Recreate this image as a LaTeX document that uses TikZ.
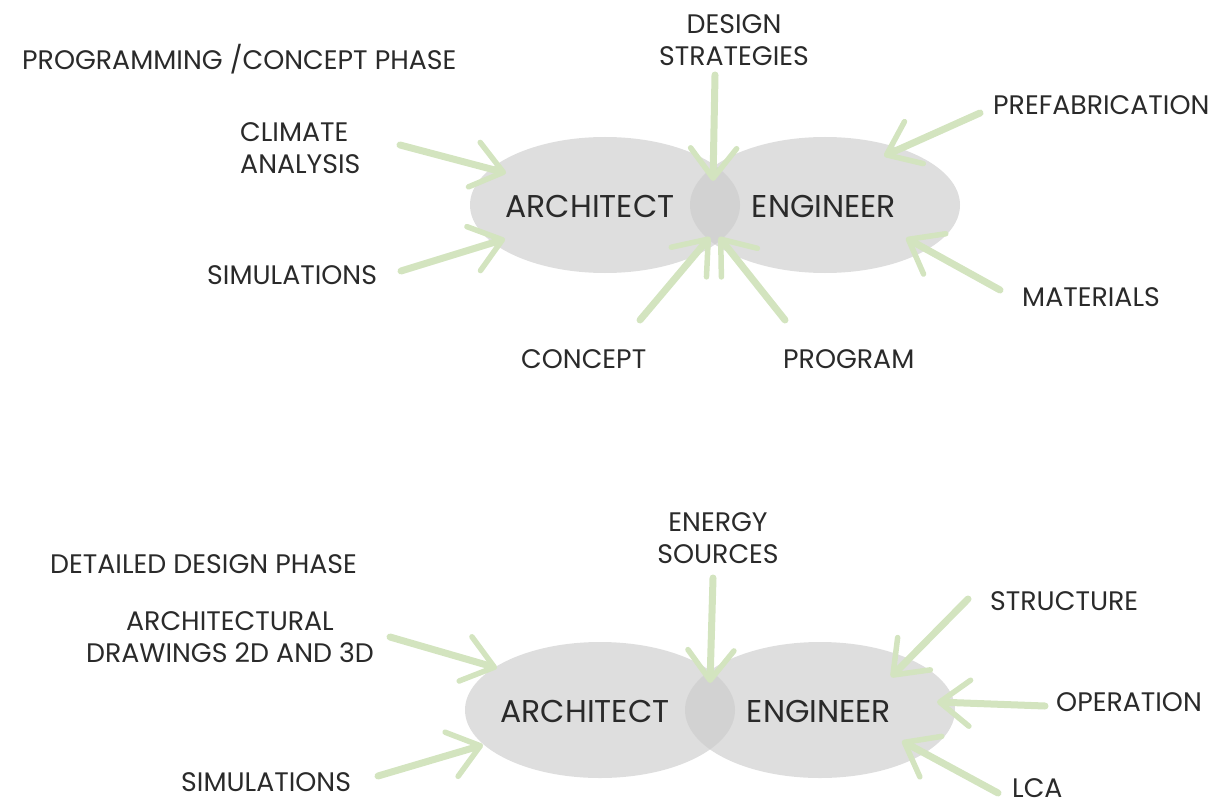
\documentclass[tikz,border=0pt]{standalone}
\usepackage{fontspec}
\setmainfont{Poppins}
\usetikzlibrary{arrows.meta,shapes.geometric}
\definecolor{blobfill}{HTML}{DEDEDE}
\definecolor{overlapfill}{HTML}{D2D2D2}
\definecolor{leafgreen}{HTML}{D3E4BF}
\definecolor{inkgray}{HTML}{2A2A2A}
\tikzset{
  blob/.style={ellipse, fill=blobfill, draw=none, minimum width=270pt, minimum height=136pt, inner sep=0pt},
  lbl/.style={inner sep=0pt, text=inkgray, font=\fontsize{26.8}{32}\selectfont},
  rolelbl/.style={inner sep=0pt, text=inkgray, font=\fontsize{31.5}{36}\selectfont, anchor=base},
  feed/.style={leafgreen, line width=7pt, line cap=round,
    -{Straight Barb[length=30pt, width=46pt, line width=5.5pt, round]}},
}
\begin{document}
\begin{tikzpicture}[x=1pt, y=-1pt]
\useasboundingbox (0,0) rectangle (1214,805);

% ---------- top diagram ----------
\node[blob] (archA) at (605,205) {};
\node[blob] (engA) at (825,205) {};
\begin{scope}
  \clip (605,205) ellipse [x radius=135, y radius=68];
  \fill[overlapfill] (825,205) ellipse [x radius=135, y radius=68];
\end{scope}
\node[rolelbl] (archAt) at (590,217) {ARCHITECT};
\node[rolelbl] (engAt) at (824,217) {ENGINEER};

\node[lbl, anchor=base west] (phaseA) at (22,70) {PROGRAMMING /CONCEPT PHASE};
\node[lbl, anchor=north, align=center] (design) at (734,14) {DESIGN\\STRATEGIES};
\node[lbl, anchor=base west] (prefab) at (993,115) {PREFABRICATION};
\node[lbl, anchor=north west, align=left] (climate) at (240,122) {CLIMATE\\ANALYSIS};
\node[lbl, anchor=base west] (simA) at (207,284) {SIMULATIONS};
\node[lbl, anchor=base west] (materials) at (1022,306) {MATERIALS};
\node[lbl, anchor=base west] (concept) at (521,368) {CONCEPT};
\node[lbl, anchor=base west] (program) at (783,368) {PROGRAM};

\coordinate (climT) at (400,145); \coordinate (climH) at (506,173);
\coordinate (simAT) at (401,271); \coordinate (simAH) at (505,239);
\coordinate (desT) at (715,75);  \coordinate (desH) at (713,181);
\coordinate (conT) at (640,320); \coordinate (conH) at (710,237);
\coordinate (proT) at (785,320); \coordinate (proH) at (719,237);
\coordinate (preT) at (980,113); \coordinate (preH) at (884,156);
\coordinate (matT) at (1000,290); \coordinate (matH) at (906,238);

\draw[feed] (climT) -- (climH);
\draw[feed] (simAT) -- (simAH);
\draw[feed] (desT) -- (desH);
\draw[feed] (conT) -- (conH);
\draw[feed] (proT) -- (proH);
\draw[feed] (preT) -- (preH);
\draw[feed] (matT) -- (matH);

% ---------- bottom diagram ----------
\node[blob] (archB) at (600,710) {};
\node[blob] (engB) at (820,710) {};
\begin{scope}
  \clip (600,710) ellipse [x radius=135, y radius=68];
  \fill[overlapfill] (820,710) ellipse [x radius=135, y radius=68];
\end{scope}
\node[rolelbl] (archBt) at (585,722) {ARCHITECT};
\node[rolelbl] (engBt) at (819,722) {ENGINEER};

\node[lbl, anchor=base west] (phaseB) at (50,573) {DETAILED DESIGN PHASE};
\node[lbl, anchor=north, align=center] (energy) at (718,512) {ENERGY\\SOURCES};
\node[lbl, anchor=base west] (structure) at (990,610) {STRUCTURE};
\node[lbl, anchor=north, align=center] (drawings) at (230,611) {ARCHITECTURAL\\DRAWINGS 2D AND 3D};
\node[lbl, anchor=base west] (operation) at (1056,711) {OPERATION};
\node[lbl, anchor=base west] (simB) at (181,791) {SIMULATIONS};
\node[lbl, anchor=base west] (lca) at (1012,797) {LCA};

\coordinate (drwT) at (390,637); \coordinate (drwH) at (497,668);
\coordinate (simBT) at (378,776); \coordinate (simBH) at (483,745);
\coordinate (eneT) at (713,578); \coordinate (eneH) at (710,683);
\coordinate (strT) at (968,599); \coordinate (strH) at (891,677);
\coordinate (opeT) at (1045,706); \coordinate (opeH) at (937,702);
\coordinate (lcaT) at (998,793); \coordinate (lcaH) at (902,741);

\draw[feed] (drwT) -- (drwH);
\draw[feed] (simBT) -- (simBH);
\draw[feed] (eneT) -- (eneH);
\draw[feed] (strT) -- (strH);
\draw[feed] (opeT) -- (opeH);
\draw[feed] (lcaT) -- (lcaH);
\end{tikzpicture}
\end{document}
